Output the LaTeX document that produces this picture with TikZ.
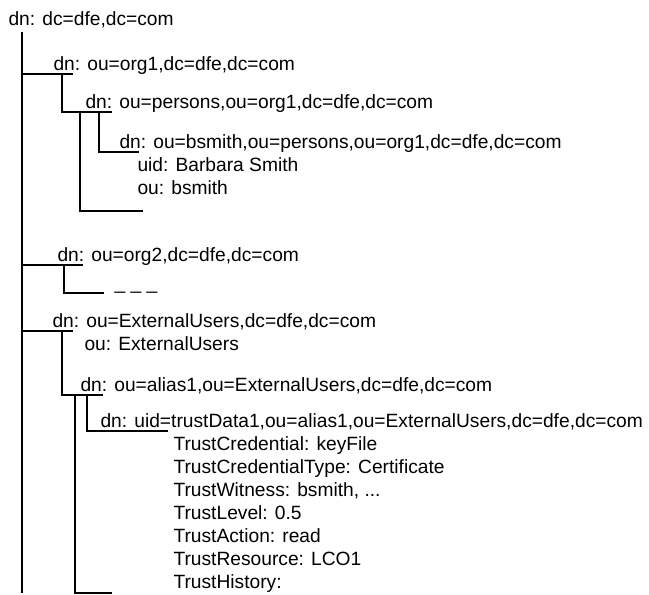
\documentclass[tikz,border=0pt]{standalone}
\usepackage{fontspec}
\setmainfont{Liberation Sans}
\newcommand\moredots{...}

\begin{document}
\begin{tikzpicture}[x=1pt,y=-1pt,line width=1.1pt,
	entry/.style={anchor=base west,inner sep=0pt,font=\fontsize{19.2}{23}\selectfont}]
			\useasboundingbox (0,0) rectangle (649,595);
			
			\node[entry] (root) at (8,25) {dn: dc=dfe,dc=com};
			\coordinate (rtop) at (22,32); \coordinate (rbot) at (22,593);
			\draw (rtop) -- (rbot);
			
			\node[entry] (org1) at (53,70) {dn: ou=org1,dc=dfe,dc=com};
			\coordinate (org1u) at (73,74); \coordinate (org1s) at (62,74);
			\draw (rtop |- org1u) -- (org1u);
			
			\node[entry] (persons) at (85,108) {dn: ou=persons,ou=org1,dc=dfe,dc=com};
			\coordinate (personsu) at (112,112);
			\coordinate (personsa) at (80,112); \coordinate (personsb) at (99,112);
			\draw (org1s) |- (personsu);
			\coordinate (personse) at (143,211); \draw (personsa) |- (personse);
			
			\node[entry] (bsmith) at (119,148) {dn: ou=bsmith,ou=persons,ou=org1,dc=dfe,dc=com};
			\node[entry] (uid) at (137,171) {uid: Barbara Smith};
			\node[entry] (ou) at (137,194) {ou: bsmith};
			\coordinate (bsmithu) at (139,152); \draw (personsb) |- (bsmithu);
			
			\node[entry] (org2) at (57,261) {dn: ou=org2,dc=dfe,dc=com};
			\coordinate (org2u) at (83,265); \coordinate (org2s) at (64,265);
			\draw (rtop |- org2u) -- (org2u);
			\node[entry] (more) at (114,289) {\_ \_ \_};
			\coordinate (moreu) at (104,293); \draw (org2s) |- (moreu);
			
			\node[entry] (ext) at (52,327) {dn: ou=ExternalUsers,dc=dfe,dc=com};
			\node[entry] (extou) at (84,350) {ou: ExternalUsers};
			\coordinate (extu) at (73,331); \coordinate (exts) at (62,331);
			\draw (rtop |- extu) -- (extu);
			
			\node[entry] (alias) at (80,391) {dn: ou=alias1,ou=ExternalUsers,dc=dfe,dc=com};
			\coordinate (aliasu) at (103,395);
			\coordinate (aliasa) at (75,395); \coordinate (aliasb) at (87,395);
			\draw (exts) |- (aliasu);
			\coordinate (aliase) at (112,593); \draw (aliasa) |- (aliase);
			
			\node[entry] (trust) at (100,427) {dn: uid=trustData1,ou=alias1,ou=ExternalUsers,dc=dfe,dc=com};
			\coordinate (trustu) at (168,431); \draw (aliasb) |- (trustu);
			\foreach \txt [count=\i] in {{TrustCredential: keyFile},{TrustCredentialType: Certificate},
				{TrustWitness: bsmith, \moredots},{TrustLevel: 0.5},{TrustAction: read},{TrustResource: LCO1},{TrustHistory:}}
			\node[entry] (attr\i) at (173,427+23*\i) {\txt};
\end{tikzpicture}
\end{document}
